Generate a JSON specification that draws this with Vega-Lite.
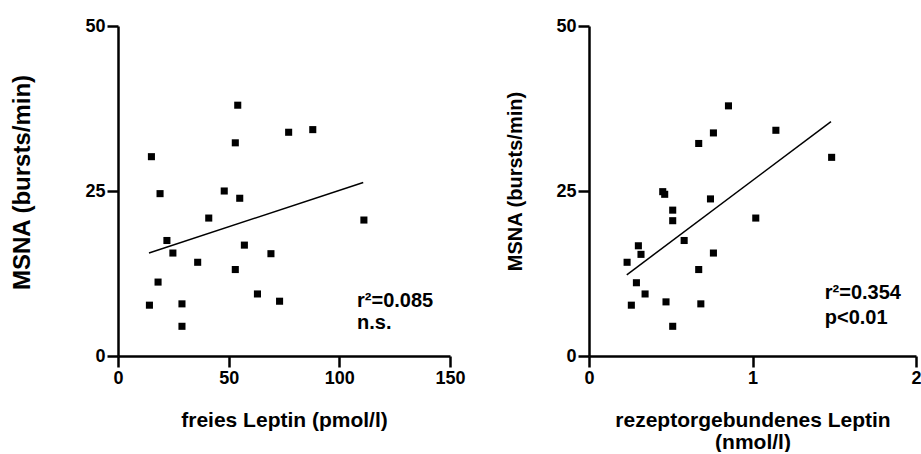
{
  "$schema": "https://vega.github.io/schema/vega-lite/v6.json",
  "background": "white",
  "padding": {"left": 10, "top": 17, "right": 0, "bottom": 0},
  "spacing": 39,
  "config": {
    "view": {"stroke": null},
    "font": "Liberation Sans",
    "axis": {
      "domain": true, "ticks": true,
      "domainColor": "black", "domainWidth": 2.5,
      "tickColor": "black", "tickWidth": 2.5, "tickSize": 11, "tickOpacity": 1,
      "labelPadding": 2, "labelFont": "Liberation Sans", "labelFontWeight": "bold",
      "labelFontSize": 18, "labelColor": "black", "labelFlush": false, "labelOverlap": false,
      "titleFont": "Liberation Sans", "titleFontWeight": "bold", "titleFontSize": 21,
      "titleColor": "black", "grid": false
    }
  },
  "datasets": {
    "left": [
      {"leptin": 54.1, "msna": 38.0}, {"leptin": 77.1, "msna": 33.9}, {"leptin": 88.0, "msna": 34.3},
      {"leptin": 53.0, "msna": 32.3}, {"leptin": 15.1, "msna": 30.2}, {"leptin": 19.0, "msna": 24.6},
      {"leptin": 48.0, "msna": 25.0}, {"leptin": 55.0, "msna": 23.9}, {"leptin": 41.0, "msna": 20.9},
      {"leptin": 111.1, "msna": 20.6}, {"leptin": 22.1, "msna": 17.5}, {"leptin": 57.1, "msna": 16.8},
      {"leptin": 24.8, "msna": 15.6}, {"leptin": 69.1, "msna": 15.5}, {"leptin": 36.0, "msna": 14.2},
      {"leptin": 53.0, "msna": 13.1}, {"leptin": 18.1, "msna": 11.2}, {"leptin": 63.0, "msna": 9.4},
      {"leptin": 73.0, "msna": 8.3}, {"leptin": 28.9, "msna": 7.9}, {"leptin": 14.2, "msna": 7.7},
      {"leptin": 28.9, "msna": 4.5}
    ],
    "leftLine": [{"leptin": 14.0, "msna": 15.6}, {"leptin": 110.8, "msna": 26.3}],
    "leftText": [{"leptin": 108, "msna": 8.3, "label": "r²=0.085"}, {"leptin": 108, "msna": 5.0, "label": "n.s."}],
    "right": [
      {"leptin": 0.853, "msna": 37.9}, {"leptin": 0.761, "msna": 33.8}, {"leptin": 1.143, "msna": 34.2},
      {"leptin": 0.671, "msna": 32.2}, {"leptin": 1.484, "msna": 30.1}, {"leptin": 0.451, "msna": 24.9},
      {"leptin": 0.463, "msna": 24.5}, {"leptin": 0.743, "msna": 23.8}, {"leptin": 0.512, "msna": 22.1},
      {"leptin": 0.512, "msna": 20.5}, {"leptin": 1.020, "msna": 20.9}, {"leptin": 0.582, "msna": 17.5},
      {"leptin": 0.302, "msna": 16.7}, {"leptin": 0.318, "msna": 15.4}, {"leptin": 0.761, "msna": 15.6},
      {"leptin": 0.233, "msna": 14.2}, {"leptin": 0.671, "msna": 13.1}, {"leptin": 0.290, "msna": 11.1},
      {"leptin": 0.343, "msna": 9.4}, {"leptin": 0.471, "msna": 8.2}, {"leptin": 0.684, "msna": 7.9},
      {"leptin": 0.259, "msna": 7.7}, {"leptin": 0.512, "msna": 4.5}
    ],
    "rightLine": [{"leptin": 0.231, "msna": 12.3}, {"leptin": 1.480, "msna": 35.5}],
    "rightText": [{"leptin": 1.442, "msna": 9.6, "label": "r²=0.354"}, {"leptin": 1.442, "msna": 5.75, "label": "p<0.01"}]
  },
  "hconcat": [
    {
      "width": 332, "height": 330,
      "layer": [
        {
          "data": {"name": "left"},
          "mark": {"type": "point", "shape": "square", "filled": true, "size": 50, "color": "black", "opacity": 1},
          "encoding": {
            "x": {"field": "leptin", "type": "quantitative", "scale": {"domain": [0, 150], "nice": false},
                  "axis": {"values": [0, 50, 100, 150], "title": "freies Leptin (pmol/l)", "titlePadding": 22}},
            "y": {"field": "msna", "type": "quantitative", "scale": {"domain": [0, 50], "nice": false},
                  "axis": {"values": [0, 25, 50], "title": "MSNA (bursts/min)", "titlePadding": 50, "titleFontSize": 24, "titleY": 156}}
          }
        },
        {
          "data": {"name": "leftLine"},
          "mark": {"type": "line", "color": "black", "strokeWidth": 1.5},
          "encoding": {
            "x": {"field": "leptin", "type": "quantitative"},
            "y": {"field": "msna", "type": "quantitative"}
          }
        },
        {
          "data": {"name": "leftText"},
          "mark": {"type": "text", "align": "left", "baseline": "middle", "fontSize": 20, "fontWeight": "bold", "font": "Liberation Sans", "color": "black"},
          "encoding": {
            "x": {"field": "leptin", "type": "quantitative"},
            "y": {"field": "msna", "type": "quantitative"},
            "text": {"field": "label"}
          }
        }
      ]
    },
    {
      "width": 327, "height": 330,
      "layer": [
        {
          "data": {"name": "right"},
          "mark": {"type": "point", "shape": "square", "filled": true, "size": 50, "color": "black", "opacity": 1},
          "encoding": {
            "x": {"field": "leptin", "type": "quantitative", "scale": {"domain": [0, 2], "nice": false},
                  "axis": {"values": [0, 1, 2], "labelExpr": "'' + datum.value", "title": ["rezeptorgebundenes Leptin", "(nmol/l)"], "titlePadding": 22, "titleLineHeight": 22}},
            "y": {"field": "msna", "type": "quantitative", "scale": {"domain": [0, 50], "nice": false},
                  "axis": {"values": [0, 25, 50], "title": "MSNA (bursts/min)", "titlePadding": 30, "titleFontSize": 20, "titleY": 155}}
          }
        },
        {
          "data": {"name": "rightLine"},
          "mark": {"type": "line", "color": "black", "strokeWidth": 1.5},
          "encoding": {
            "x": {"field": "leptin", "type": "quantitative"},
            "y": {"field": "msna", "type": "quantitative"}
          }
        },
        {
          "data": {"name": "rightText"},
          "mark": {"type": "text", "align": "left", "baseline": "middle", "fontSize": 20, "fontWeight": "bold", "font": "Liberation Sans", "color": "black"},
          "encoding": {
            "x": {"field": "leptin", "type": "quantitative"},
            "y": {"field": "msna", "type": "quantitative"},
            "text": {"field": "label"}
          }
        }
      ]
    }
  ]
}
